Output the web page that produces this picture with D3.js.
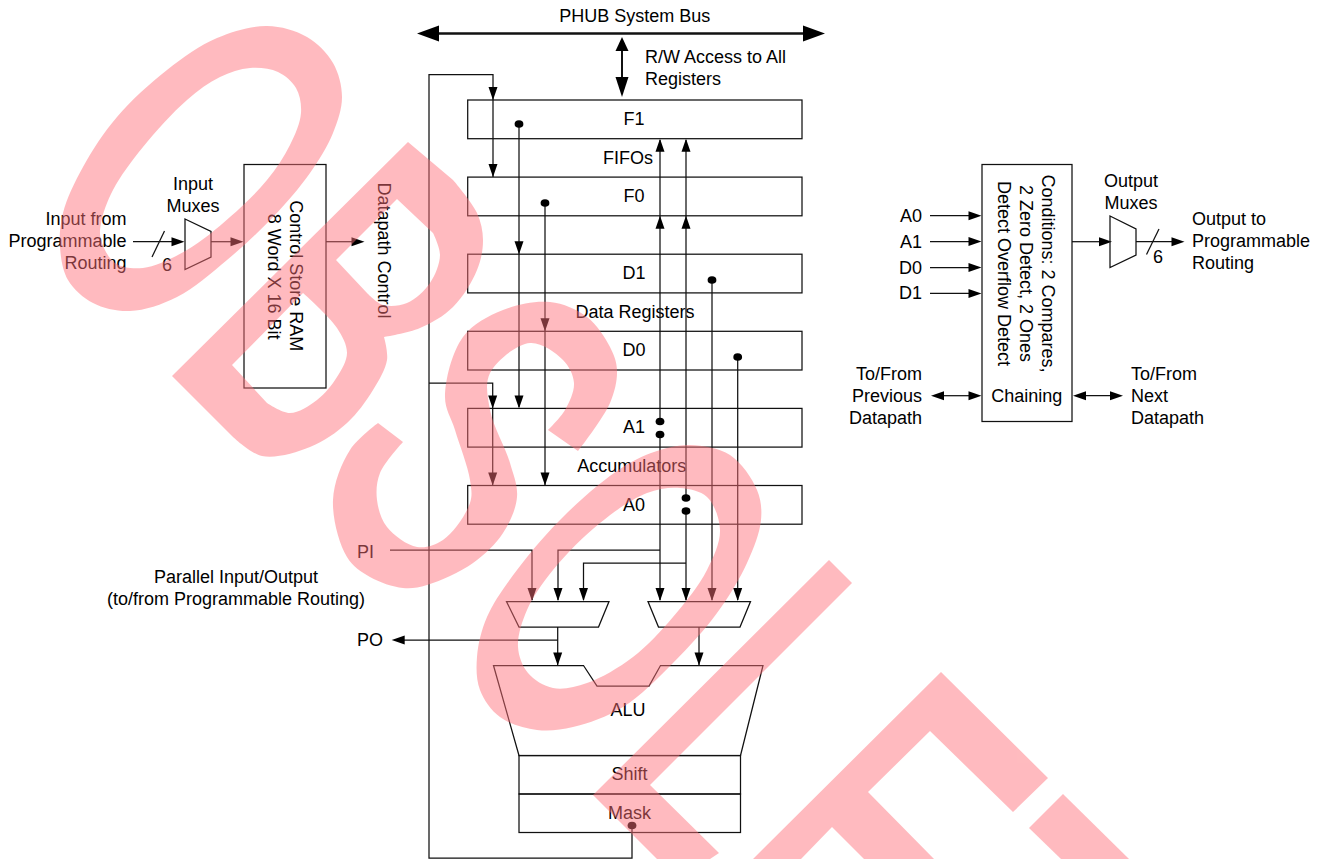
<!DOCTYPE html>
<html>
<head>
<meta charset="utf-8">
<script src="https://cdn.jsdelivr.net/npm/d3@7"></script>
<style>
  html, body { margin: 0; padding: 0; background: #fff; overflow: hidden; }
  text { font-family: "Liberation Sans", Arial, sans-serif; font-size: 18px; fill: #000; }
</style>
</head>
<body>
<svg id="plot"></svg>
<script>
// Block names and labels
const registers = ["F1", "F0", "D1", "D0", "A1", "A0"];
const registerGroups = ["FIFOs", "Data Registers", "Accumulators"];
const aluBlocks = ["Shift", "Mask"];
const conditionInputs = ["A0", "A1", "D0", "D1"];
const conditionLines = ["Conditions: 2 Compares,", "2 Zero Detect, 2 Ones", "Detect Overflow Detect"];
const ramLines = ["Control Store RAM", "8 Word X 16 Bit"];
const inputLines = ["Input from", "Programmable", "Routing"];
const outputLines = ["Output to", "Programmable", "Routing"];
const prevLines = ["To/From", "Previous", "Datapath"];
const nextLines = ["To/From", "Next", "Datapath"];
const parallelLines = ["Parallel Input/Output", "(to/from Programmable Routing)"];
const rwLines = ["R/W Access to All", "Registers"];
const inputMuxLines = ["Input", "Muxes"];
const outputMuxLines = ["Output", "Muxes"];

const width = 1321, height = 859;

const svg = d3.select("#plot")
  .attr("width", width)
  .attr("height", height)
  .style("display", "block");

const rowY = d3.scalePoint().domain(registers).range([100, 485.5]);
const rowH = 38.7;
const path = d3.line();
const diagram = svg.append("g");

function wire(points, w) {
  diagram.append("path")
    .attr("d", path(points))
    .attr("fill", "none")
    .attr("stroke", "#111")
    .attr("stroke-width", w || 1.25);
}

function shape(points) {
  diagram.append("path")
    .attr("d", path(points) + "Z")
    .attr("fill", "none")
    .attr("stroke", "#111")
    .attr("stroke-width", 1.25);
}

function box(x, y, w, h) {
  diagram.append("rect")
    .attr("x", x).attr("y", y)
    .attr("width", w).attr("height", h)
    .attr("fill", "none")
    .attr("stroke", "#111")
    .attr("stroke-width", 1.25);
}

// tip at x,y; angle in degrees, 0 = pointing right
function head(x, y, angle, len, wid) {
  len = len || 13;
  wid = wid || 9;
  diagram.append("path")
    .attr("d", path([[0, 0], [-len, -wid / 2], [-len, wid / 2]]) + "Z")
    .attr("transform", `translate(${x},${y}) rotate(${angle})`)
    .attr("fill", "#000");
}

function dot(x, y) {
  diagram.append("ellipse")
    .attr("cx", x).attr("cy", y)
    .attr("rx", 4.4).attr("ry", 3.8)
    .attr("fill", "#000");
}

function label(t, x, y, anchor) {
  diagram.append("text")
    .attr("x", x).attr("y", y)
    .attr("text-anchor", anchor || "start")
    .text(t);
}

function labels(lines, x, y, anchor, step) {
  lines.forEach((t, i) => label(t, x, y + i * (step || 22), anchor));
}

function sideways(t, x, y) {
  diagram.append("text")
    .attr("transform", `translate(${x},${y}) rotate(90)`)
    .attr("text-anchor", "middle")
    .text(t);
}

// System bus
wire([[435, 33.5], [808, 33.5]], 2.6);
head(417, 33.5, 180, 22, 16);
head(825, 33.5, 0, 22, 16);
label("PHUB System Bus", 634.7, 22, "middle");
wire([[622, 50], [622, 84]], 2);
head(622, 37, -90, 14, 13);
head(622, 97, 90, 20, 13);
labels(rwLines, 645, 63, "start");

// Registers
registers.forEach(r => {
  box(467.7, rowY(r), 334.3, rowH);
  label(r, 634, rowY(r) + 25, "middle");
});
label(registerGroups[0], 628, 164, "middle");
label(registerGroups[1], 635, 318, "middle");
label(registerGroups[2], 631.7, 471.7, "middle");

// Feedback from the mask output
wire([[632, 825], [632, 858], [429, 858], [429, 74.5], [493, 74.5], [493, 177]]);
head(493, rowY("F1"), 90);
head(493, rowY("F0"), 90);
wire([[429, 383], [492.7, 383], [492.7, 485]]);
head(492.7, rowY("A1"), 90);
head(492.7, rowY("A0"), 90);
dot(632, 825.5);

// F1 and F0 outputs
wire([[519, 124], [519, 407]]);
dot(519, 124);
head(519, rowY("D1"), 90);
head(519, rowY("A1"), 90);
wire([[545, 203], [545, 485]]);
dot(545, 203);
head(545, rowY("D0"), 90);
head(545, rowY("A0"), 90);

// A1 and A0 up to the FIFOs
wire([[660, 140], [660, 421]]);
dot(660, 421.5);
head(660, rowY("F1") + rowH, -90);
head(660, rowY("F0") + rowH, -90);
wire([[686, 140], [686, 498]]);
dot(686, 498);
head(686, rowY("F1") + rowH, -90);
head(686, rowY("F0") + rowH, -90);

// Register outputs to the input muxes
wire([[660, 434.5], [660, 600]]);
dot(660, 434.5);
wire([[686, 511], [686, 600]]);
dot(686, 511);
wire([[712, 280], [712, 600]]);
dot(712, 280);
wire([[737.7, 357], [737.7, 600]]);
dot(737.7, 357);
[660, 686, 712, 737.7].forEach(x => head(x, 601, 90));

wire([[390, 550], [532, 550], [532, 600]]);
wire([[660, 550], [558, 550], [558, 600]]);
wire([[686, 563], [583.5, 563], [583.5, 600]]);
[532, 558, 583.5].forEach(x => head(x, 601, 90));
label("PI", 357, 557.7);
labels(parallelLines, 236, 582.5, "middle");

// Muxes in front of the ALU
shape([[506.5, 601.5], [609, 601.5], [598.5, 627], [519, 627]]);
shape([[648, 601.5], [750.5, 601.5], [740, 627], [658.5, 627]]);
wire([[557.7, 627], [557.7, 665]]);
head(557.7, 665.5, 90);
wire([[557.7, 640], [400, 640]]);
head(391.7, 640, 180);
label("PO", 357, 645.7);
wire([[699, 627], [699, 665]]);
head(699, 665.5, 90);

// ALU, shift and mask
shape([[493.5, 665.5], [583.5, 665.5], [597, 686], [649, 686], [660.5, 665.5], [763, 665.5], [740.5, 755.5], [519, 755.5]]);
label("ALU", 628, 715.7, "middle");
aluBlocks.forEach((b, i) => {
  box(519, 755.5 + i * 38.5, 221.5, 38.5);
  label(b, 629.5, 780 + i * 39, "middle");
});

// Input side
labels(inputLines, 126.5, 225, "end");
labels(inputMuxLines, 193, 190, "middle");
wire([[133, 241.7], [175, 241.7]]);
head(184.5, 241.7, 0);
wire([[152, 257], [164.5, 231]]);
label("6", 167, 271, "middle");
shape([[185, 219], [211, 231.5], [211, 257], [185, 269.5]]);
wire([[211, 241.7], [235, 241.7]]);
head(243.5, 241.7, 0);
box(244, 164.5, 82, 223.5);
sideways(ramLines[0], 290, 275.7);
sideways(ramLines[1], 268.3, 276.7);
wire([[326, 241.7], [355, 241.7]]);
head(364.5, 241.7, 0);
sideways("Datapath Control", 377.5, 250.5);

// Conditions block
box(982, 164.5, 90, 257);
conditionLines.forEach((t, i) => sideways(t, 1041.7 - i * 21.8, 273.5));
label("Chaining", 1026.7, 401.7, "middle");
conditionInputs.forEach((c, i) => {
  const y = 215.7 + i * 25.9;
  label(c, 922, y + 6, "end");
  wire([[930, y], [972, y]]);
  head(981.5, y, 0);
});

// Chaining
labels(prevLines, 922, 380, "end");
wire([[940, 395.7], [972, 395.7]]);
head(931, 395.7, 180);
head(981.5, 395.7, 0);
labels(nextLines, 1131, 380, "start");
wire([[1082, 395.7], [1115, 395.7]]);
head(1073, 395.7, 180);
head(1123, 395.7, 0);

// Output side
wire([[1072, 241.7], [1102, 241.7]]);
head(1112, 241.7, 0);
shape([[1110, 216], [1136, 229], [1136, 255], [1110, 267.5]]);
wire([[1136, 241.7], [1175, 241.7]]);
head(1184.5, 241.7, 0);
wire([[1146.5, 254.6], [1159, 229]]);
label("6", 1158, 262.7, "middle");
labels(outputMuxLines, 1131, 186.7, "middle");
labels(outputLines, 1192, 225, "start");

// Watermark sits over the diagram, in one translucent layer
const mark = svg.append("g")
  .attr("fill", "rgb(255,113,122)")
  .attr("fill-rule", "evenodd")
  .attr("opacity", 0.478);

const smooth = d3.line().curve(d3.curveCatmullRomClosed);
const bend = d3.line().curve(d3.curveCatmullRom);

// several curved runs joined with sharp corners
function runs(list) {
  return list.map((r, i) => (i ? bend(r).replace(/^M/, "L") : bend(r))).join("") + "Z";
}

const ringA = [[267, 26], [307, 37], [333, 63], [342, 97], [333, 133], [310, 173], [273, 217], [227, 260], [177, 297], [130, 311], [93, 303], [68, 280], [60, 247], [63, 213], [83, 167], [117, 117], [167, 70], [217, 38]];
const ringAHole = [[250, 68], [278, 72], [296, 88], [301, 113], [290, 145], [267, 180], [230, 217], [187, 250], [143, 268], [115, 263], [101, 240], [101, 223], [113, 190], [143, 147], [187, 100], [220, 77]];
mark.append("path").attr("d", smooth(ringA) + smooth(ringAHole));

const ringB = [[690, 445], [730, 455], [757, 490], [761, 520], [747, 563], [717, 613], [673, 663], [623, 707], [573, 727], [537, 730], [500, 717], [480, 690], [477, 657], [487, 617], [517, 570], [567, 513], [623, 467], [660, 450]];
const ringBHole = [[680, 488], [707, 497], [720, 530], [707, 570], [673, 617], [633, 657], [587, 683], [553, 688], [528, 673], [518, 647], [527, 610], [553, 570], [600, 523], [647, 493]];
mark.append("path").attr("d", smooth(ringB) + smooth(ringBHole));

const letterB = runs([
  [[172, 376], [408, 142]],
  [[408, 142], [453, 180]],
  [[453, 180], [477, 213], [483, 240], [477, 270], [453, 307], [420, 328], [384, 337]],
  [[384, 337], [387, 360], [373, 390], [347, 423], [310, 447], [262, 456], [232, 436]]
]);
const letterBTop = runs([
  [[397, 199], [433, 233]],
  [[433, 233], [440, 255], [430, 283], [407, 303], [383, 305], [367, 293]],
  [[367, 293], [336, 260]]
]);
const letterBLow = runs([
  [[232, 365], [303, 293]],
  [[303, 293], [337, 328], [347, 353], [337, 377], [317, 400], [290, 413], [267, 403]]
]);
mark.append("path").attr("d", letterB + letterBTop + letterBLow);

const letterS = runs([
  [[378, 423], [350, 450], [333, 500], [347, 557], [370, 577], [403, 588], [427, 585], [473, 563], [503, 533], [517, 497], [510, 463], [490, 410], [490, 373], [530, 343], [563, 360], [574, 383], [565, 410], [548, 430]],
  [[578, 451], [610, 403], [617, 370], [610, 347], [587, 317], [550, 302], [503, 310], [463, 337], [445, 397], [455, 430], [470, 480], [470, 503], [443, 540], [417, 547], [387, 527], [377, 500], [380, 473], [403, 442]]
]);
mark.append("path").attr("d", letterS);

const straightLetters = [
  [[829, 560], [852, 583], [650, 785], [719, 853], [710, 859], [657, 859], [593, 795]],
  [[941, 672], [1048, 778], [1013, 812], [930, 731], [868, 792], [934, 859], [864, 859], [832, 827], [801, 859], [753, 859]],
  [[1063, 794], [1029, 828], [1061, 859], [1129, 859]]
];
straightLetters.forEach(p => mark.append("path").attr("d", path(p) + "Z"));
</script>
</body>
</html>
